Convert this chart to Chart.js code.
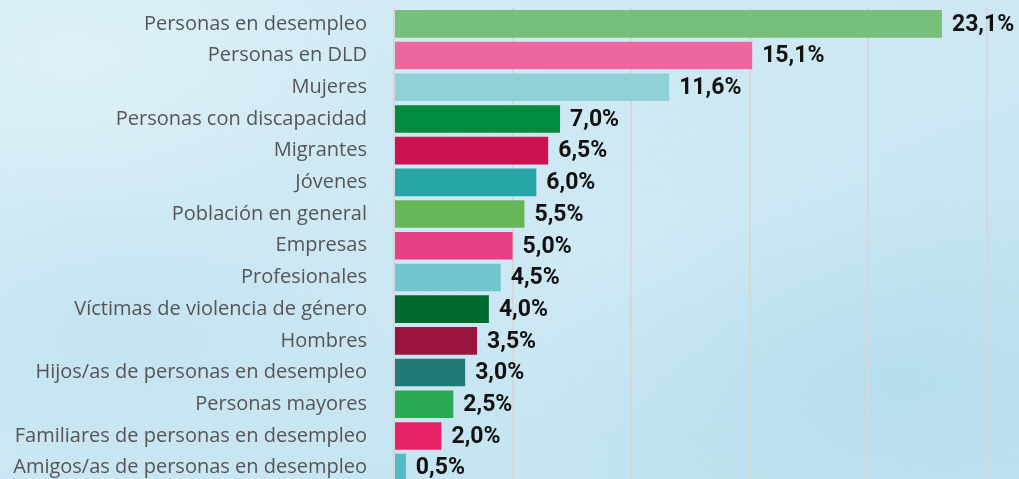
<!DOCTYPE html>
<html lang="es">
<head>
  <meta charset="UTF-8" />
  <title>Colectivos destinatarios</title>
  <script src="https://cdn.jsdelivr.net/npm/chart.js"></script>
  <style>
    html, body { margin: 0; padding: 0; width: 1019px; height: 479px; overflow: hidden; }
    body {
      background:
        radial-gradient(ellipse 300px 160px at 80px 60px, rgba(226,242,249,0.7), rgba(226,242,249,0)),
        radial-gradient(ellipse 260px 140px at 120px 330px, rgba(190,225,240,0.6), rgba(190,225,240,0)),
        radial-gradient(ellipse 380px 200px at 900px 380px, rgba(178,219,236,0.7), rgba(178,219,236,0)),
        radial-gradient(ellipse 300px 180px at 650px 260px, rgba(210,235,246,0.6), rgba(210,235,246,0)),
        linear-gradient(160deg, #d6edf6 0%, #cce8f3 45%, #bfe2f0 100%);
    }
    #chart { position: absolute; left: 0; top: 0; }
  </style>
</head>
<body>

<canvas id="chart" width="1019" height="490"></canvas>

<script>
  // colectivos y porcentajes
  const categorias = [
    "Personas en desempleo",
    "Personas en DLD",
    "Mujeres",
    "Personas con discapacidad",
    "Migrantes",
    "Jóvenes",
    "Población en general",
    "Empresas",
    "Profesionales",
    "Víctimas de violencia de género",
    "Hombres",
    "Hijos/as de personas en desempleo",
    "Personas mayores",
    "Familiares de personas en desempleo",
    "Amigos/as de personas en desempleo"
  ];
  const valores = [23.1, 15.1, 11.6, 7.0, 6.5, 6.0, 5.5, 5.0, 4.5, 4.0, 3.5, 3.0, 2.5, 2.0, 0.5];
  const colores = [
    "#77bf7a", "#ed679f", "#8fd1d7", "#008c3f", "#cc1150",
    "#28a5a6", "#67b657", "#e83e84", "#70c6cc", "#006a31",
    "#9a153d", "#1f7a78", "#2aa853", "#e72167", "#4fbcc4"
  ];
  const ejeMax = 25;
  const ejePaso = 5;

  // etiqueta con el porcentaje al final de cada barra
  const etiquetas = {
    id: "etiquetas",
    afterDatasetsDraw(chart) {
      const ctx = chart.ctx;
      const meta = chart.getDatasetMeta(0);
      ctx.save();
      ctx.font = "bold 23px Roboto";
      ctx.fillStyle = "#111";
      ctx.textAlign = "left";
      ctx.textBaseline = "middle";
      meta.data.forEach((bar, i) => {
        const txt = valores[i].toFixed(1).replace(".", ",") + "%";
        ctx.fillText(txt, bar.x + 10, bar.y + 1);
      });
      ctx.restore();
    }
  };

  new Chart(document.getElementById("chart"), {
    type: "bar",
    data: {
      labels: categorias,
      datasets: [{
        data: valores,
        backgroundColor: colores,
        borderWidth: 0,
        barPercentage: 0.87,
        categoryPercentage: 1
      }]
    },
    options: {
      indexAxis: "y",
      responsive: false,
      animation: false,
      layout: { padding: { top: 8, bottom: 6.5, left: 0, right: 32 } },
      plugins: { legend: { display: false }, tooltip: { enabled: false } },
      scales: {
        x: {
          min: 0,
          max: ejeMax,
          ticks: { display: false, stepSize: ejePaso },
          grid: { color: "rgba(214,214,214,0.95)", lineWidth: 2, drawTicks: false },
          border: { display: false }
        },
        y: {
          grid: { display: false, drawTicks: false },
          border: { display: false },
          ticks: {
            padding: 27,
            color: "#555",
            font: { family: "Open Sans", size: 20 }
          },
          afterFit(scale) {
            scale.width = 394;
            // sin margen extra arriba/abajo por el relleno de las etiquetas
            scale.paddingTop = 0;
            scale.paddingBottom = 0;
          }
        }
      }
    },
    plugins: [etiquetas]
  });
</script>

</body>
</html>
